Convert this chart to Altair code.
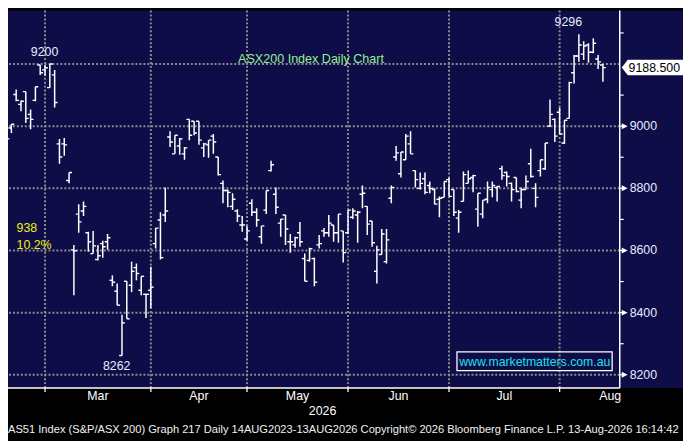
import altair as alt
import pandas as pd

NAVY = "#0f0d48"
GRID = "#8c8c8c"
FONT = "Liberation Sans"

# ---- daily OHLC bars (trading-day index 0..125) ----
high = [8952, 8994, 9006, 9118, 9083, 9111, 9054, 9127, 9197, 9197,
        9200, 9181, 8959, 8962, 8851, 8618, 8749, 8758, 8660, 8663,
        8618, 8631, 8653, 8520, 8494, 8393, 8501, 8564, 8558, 8517,
        8459, 8548, 8672, 8723, 8803, 8984, 8971, 8962, 8933, 9022,
        9016, 9016, 8946, 8955, 8975, 8901, 8825, 8796, 8784, 8733,
        8711, 8679, 8765, 8736, 8679, 8793, 8889, 8803, 8701, 8714,
        8653, 8644, 8692, 8590, 8609, 8577, 8650, 8672, 8714, 8682,
        8717, 8663, 8730, 8736, 8727, 8809, 8742, 8695, 8615, 8669,
        8669, 8809, 8936, 8917, 8975, 8984, 8857, 8851, 8851, 8822,
        8800, 8774, 8822, 8835, 8796, 8730, 8854, 8857, 8844, 8784,
        8762, 8822, 8822, 8806, 8873, 8854, 8819, 8835, 8803, 8841,
        8927, 8816, 8892, 8946, 9086, 9025, 9060, 9019, 9143, 9229,
        9296, 9273, 9267, 9283, 9229, 9200]
low = [8914, 8959, 8978, 9080, 9048, 9010, 8990, 9080, 9165, 9162,
       9124, 9060, 8879, 8905, 8816, 8456, 8657, 8711, 8596, 8590,
       8568, 8577, 8602, 8485, 8424, 8262, 8380, 8466, 8504, 8456,
       8383, 8415, 8606, 8571, 8692, 8933, 8911, 8908, 8892, 8955,
       8971, 8940, 8901, 8898, 8911, 8841, 8752, 8739, 8730, 8692,
       8660, 8631, 8711, 8676, 8622, 8717, 8854, 8717, 8644, 8618,
       8593, 8609, 8612, 8501, 8564, 8485, 8606, 8644, 8644, 8628,
       8625, 8561, 8653, 8701, 8625, 8736, 8650, 8612, 8494, 8587,
       8558, 8752, 8889, 8835, 8892, 8911, 8803, 8796, 8781, 8784,
       8749, 8707, 8771, 8774, 8711, 8657, 8758, 8816, 8787, 8676,
       8704, 8752, 8771, 8758, 8828, 8806, 8758, 8787, 8736, 8796,
       8835, 8739, 8838, 8860, 8997, 8949, 8975, 8943, 9025, 9137,
       9207, 9213, 9204, 9235, 9184, 9143]
open_ = [8949, 8978, 8994, 9102, 9070, 9111, 9038, 9083, 9197, 9181,
         9124, 9165, 8943, 8943, 8825, 8602, 8717, 8727, 8657, 8590,
         8571, 8622, 8628, 8504, 8469, 8262, 8501, 8488, 8545, 8472,
         8459, 8472, 8622, 8698, 8714, 8965, 8911, 8936, 8911, 9022,
         9016, 9016, 8930, 8940, 8968, 8901, 8816, 8793, 8742, 8727,
         8682, 8637, 8752, 8723, 8644, 8730, 8857, 8781, 8688, 8714,
         8628, 8618, 8657, 8574, 8568, 8574, 8618, 8663, 8657, 8682,
         8657, 8663, 8657, 8707, 8714, 8781, 8742, 8695, 8533, 8587,
         8564, 8768, 8901, 8847, 8892, 8943, 8857, 8800, 8831, 8809,
         8796, 8765, 8771, 8828, 8796, 8704, 8758, 8816, 8835, 8733,
         8717, 8765, 8796, 8803, 8863, 8851, 8816, 8835, 8762, 8796,
         8879, 8800, 8857, 8863, 9000, 9022, 9045, 8946, 9025, 9172,
         9226, 9232, 9261, 9238, 9216, 9197]
close = [8933, 8959, 9006, 9083, 9080, 9025, 9022, 9127, 9172, 9188,
         9200, 9076, 8901, 8940, 8851, 8599, 8692, 8742, 8628, 8615,
         8583, 8612, 8641, 8498, 8424, 8367, 8380, 8533, 8526, 8517,
         8459, 8482, 8672, 8577, 8727, 8949, 8971, 8959, 8930, 8971,
         8978, 8955, 8943, 8955, 8949, 8844, 8793, 8787, 8765, 8711,
         8682, 8663, 8723, 8698, 8679, 8793, 8876, 8739, 8701, 8669,
         8628, 8641, 8628, 8501, 8606, 8498, 8622, 8657, 8688, 8657,
         8717, 8593, 8730, 8727, 8723, 8784, 8685, 8625, 8602, 8653,
         8634, 8803, 8914, 8917, 8968, 8911, 8828, 8816, 8787, 8800,
         8749, 8768, 8822, 8774, 8723, 8723, 8844, 8831, 8841, 8784,
         8762, 8803, 8809, 8806, 8841, 8838, 8796, 8790, 8796, 8822,
         8838, 8771, 8892, 8946, 9038, 8968, 8975, 9019, 9140, 9226,
         9261, 9258, 9238, 9267, 9207, 9188.5]

# ---- axis / calendar ----
month_names = ["Mar", "Apr", "May", "Jun", "Jul", "Aug"]
month_starts = [9, 31, 51, 72, 93, 116]
month_days = [22, 20, 21, 21, 23, 21]
year_label = ["2026"]
year_pos = [66.7]
h_grid = [8200, 8400, 8600, 8800, 9000, 9200]
y_ticks = [8200, 8300, 8400, 8500, 8600, 8700, 8800, 8900, 9000, 9100, 9300]
y_major = [8200, 8400, 8600, 8800, 9000]
last_price = [9188.5]

# ---- annotations ----
ann_text = ["9200", "9296", "8262"]
ann_i = [8.9, 117.8, 23.9]
ann_v = [9238.5, 9335.5, 8228]
move_text = ["938", "10.2%"]
move_i = [3.08, 3.08]
move_v = [8671, 8618.5]
title_text = ["ASX200 Index Daily Chart"]
title_i = [64.3]
title_v = [9214.6]
site_text = ["www.marketmatters.com.au"]
footnote = ["AS51 Index (S&P/ASX 200) Graph 217 Daily 14AUG2023-13AUG2026  "
            "Copyright\u00a9 2026 Bloomberg Finance L.P.  13-Aug-2026 16:14:42"]

ohlc = pd.DataFrame({"i": list(range(len(high))), "high": high, "low": low,
                     "open": open_, "close": close})
months = pd.DataFrame({"name": month_names, "start": month_starts, "days": month_days})
months["mid"] = months["start"] + months["days"] / 2.0
yt = pd.DataFrame({"v": y_ticks})
ym = pd.DataFrame({"v": y_major, "t": [str(v) for v in y_major]})

xs = alt.Scale(domain=[1.3, 128.5], nice=False, zero=False)
ys = alt.Scale(domain=[8157.3, 9372.1], nice=False, zero=False)

one = pd.DataFrame({"k": [0]})

bg_right = alt.Chart(one).mark_rect(color=NAVY).encode(
    x=alt.value(619), x2=alt.value(683), y=alt.value(0), y2=alt.value(382))

hgrid = alt.Chart(pd.DataFrame({"v": h_grid})).mark_rule(
    color=GRID, strokeWidth=2, strokeDash=[2, 2]).encode(
    y=alt.Y("v:Q", scale=ys, axis=None))

vgrid = alt.Chart(months).mark_rule(
    color=GRID, strokeWidth=2, strokeDash=[2, 2]).encode(
    x=alt.X("start:Q", scale=xs, axis=None))

bars = alt.Chart(ohlc).mark_rule(color="white", strokeWidth=1.5, clip=True).encode(
    x=alt.X("i:Q", scale=xs, axis=None),
    y=alt.Y("low:Q", scale=ys, axis=None),
    y2="high:Q")

opens = alt.Chart(ohlc).transform_calculate(io="datum.i - 0.6").mark_rule(
    color="white", strokeWidth=1.4, clip=True).encode(
    x=alt.X("io:Q", scale=xs, axis=None), x2="i:Q",
    y=alt.Y("open:Q", scale=ys, axis=None))

closes = alt.Chart(ohlc).transform_calculate(ic="datum.i + 0.6").mark_rule(
    color="white", strokeWidth=1.4, clip=True).encode(
    x=alt.X("i:Q", scale=xs, axis=None), x2="ic:Q",
    y=alt.Y("close:Q", scale=ys, axis=None))

# ---- axes drawn as marks ----
x_domain = alt.Chart(one).mark_rule(color="white", strokeWidth=1.5).encode(
    x=alt.value(0), x2=alt.value(619), y=alt.value(382))
y_domain = alt.Chart(one).mark_rule(color="white", strokeWidth=1.5).encode(
    x=alt.value(619), y=alt.value(0), y2=alt.value(382))
x_ticks = alt.Chart(months).mark_rule(color="white", strokeWidth=1.3).encode(
    x=alt.X("start:Q", scale=xs, axis=None), y=alt.value(382), y2=alt.value(386))
y_tick_marks = alt.Chart(yt).mark_rule(color="white", strokeWidth=1.2).encode(
    x=alt.value(619), x2=alt.value(623), y=alt.Y("v:Q", scale=ys, axis=None))
triangles = alt.Chart(ym).mark_point(
    shape="M-1,-1L1,0L-1,1Z", size=36, filled=True, color="white",
    opacity=1, strokeWidth=0).encode(
    x=alt.value(624), y=alt.Y("v:Q", scale=ys, axis=None))
y_labels = alt.Chart(ym).mark_text(
    color="#e6ecff", font=FONT, fontSize=12.5, align="left", baseline="middle").encode(
    x=alt.value(629), y=alt.Y("v:Q", scale=ys, axis=None), text="t:N")

tag_df = pd.DataFrame({"v": last_price, "t": [f"{p:.3f}" for p in last_price]})
tag = alt.Chart(tag_df).mark_point(
    shape="M-1,0L-0.8,-0.253L1,-0.253L1,0.253L-0.8,0.253Z", size=3844,
    filled=True, color="white", opacity=1, strokeWidth=0).encode(
    x=alt.value(652), y=alt.Y("v:Q", scale=ys, axis=None))
tag_text = alt.Chart(tag_df).mark_text(
    color="black", font=FONT, fontSize=12.5, align="center", baseline="middle").encode(
    x=alt.value(654), y=alt.Y("v:Q", scale=ys, axis=None), text="t:N")

ann = alt.Chart(pd.DataFrame({"t": ann_text, "i": ann_i, "v": ann_v})).mark_text(
    color="#e8eeff", font=FONT, fontSize=12.5, align="center", baseline="middle").encode(
    x=alt.X("i:Q", scale=xs, axis=None), y=alt.Y("v:Q", scale=ys, axis=None), text="t:N")

moves = alt.Chart(pd.DataFrame({"t": move_text, "i": move_i, "v": move_v})).mark_text(
    color="#f0f00a", font=FONT, fontSize=12.5, align="left", baseline="middle").encode(
    x=alt.X("i:Q", scale=xs, axis=None), y=alt.Y("v:Q", scale=ys, axis=None), text="t:N")

title = alt.Chart(pd.DataFrame({"t": title_text, "i": title_i, "v": title_v})).mark_text(
    color="#8fef8f", font=FONT, fontSize=12.7, align="center", baseline="middle").encode(
    x=alt.X("i:Q", scale=xs, axis=None), y=alt.Y("v:Q", scale=ys, axis=None), text="t:N")

site_box = alt.Chart(one).mark_rect(fillOpacity=0, stroke="white", strokeWidth=1.3).encode(
    x=alt.value(454.3), x2=alt.value(611.3), y=alt.value(345.3), y2=alt.value(364.3))
site = alt.Chart(pd.DataFrame({"t": site_text})).mark_text(
    color="#1ee0e8", font=FONT, fontSize=12.4, align="center", baseline="middle").encode(
    x=alt.value(533), y=alt.value(356), text="t:N")

month_lbl = alt.Chart(months).mark_text(
    color="white", font=FONT, fontSize=12.5, align="center", baseline="middle").encode(
    x=alt.X("mid:Q", scale=xs, axis=None), y=alt.value(390), text="name:N")

year = alt.Chart(pd.DataFrame({"t": year_label, "i": year_pos})).mark_text(
    color="white", font=FONT, fontSize=12.5, align="center", baseline="middle").encode(
    x=alt.X("i:Q", scale=xs, axis=None), y=alt.value(405), text="t:N")

foot = alt.Chart(pd.DataFrame({"t": footnote})).mark_text(
    color="#f0f0f0", font=FONT, fontSize=11.25, align="left", baseline="middle").encode(
    x=alt.value(0), y=alt.value(424), text="t:N")

chart = alt.layer(
    bg_right, hgrid, vgrid, bars, opens, closes,
    x_domain, y_domain, x_ticks, y_tick_marks, triangles, y_labels,
    tag, tag_text, ann, moves, title, site_box, site, month_lbl, year, foot
).properties(
    width=619, height=382,
    padding={"left": 0, "top": 0, "right": 64, "bottom": 51},
    autosize=alt.AutoSizeParams(type="none"),
).configure(background="#000000").configure_view(fill=NAVY, strokeWidth=0)

chart.save("out.html", embed_options={"renderer": "svg", "actions": False})
